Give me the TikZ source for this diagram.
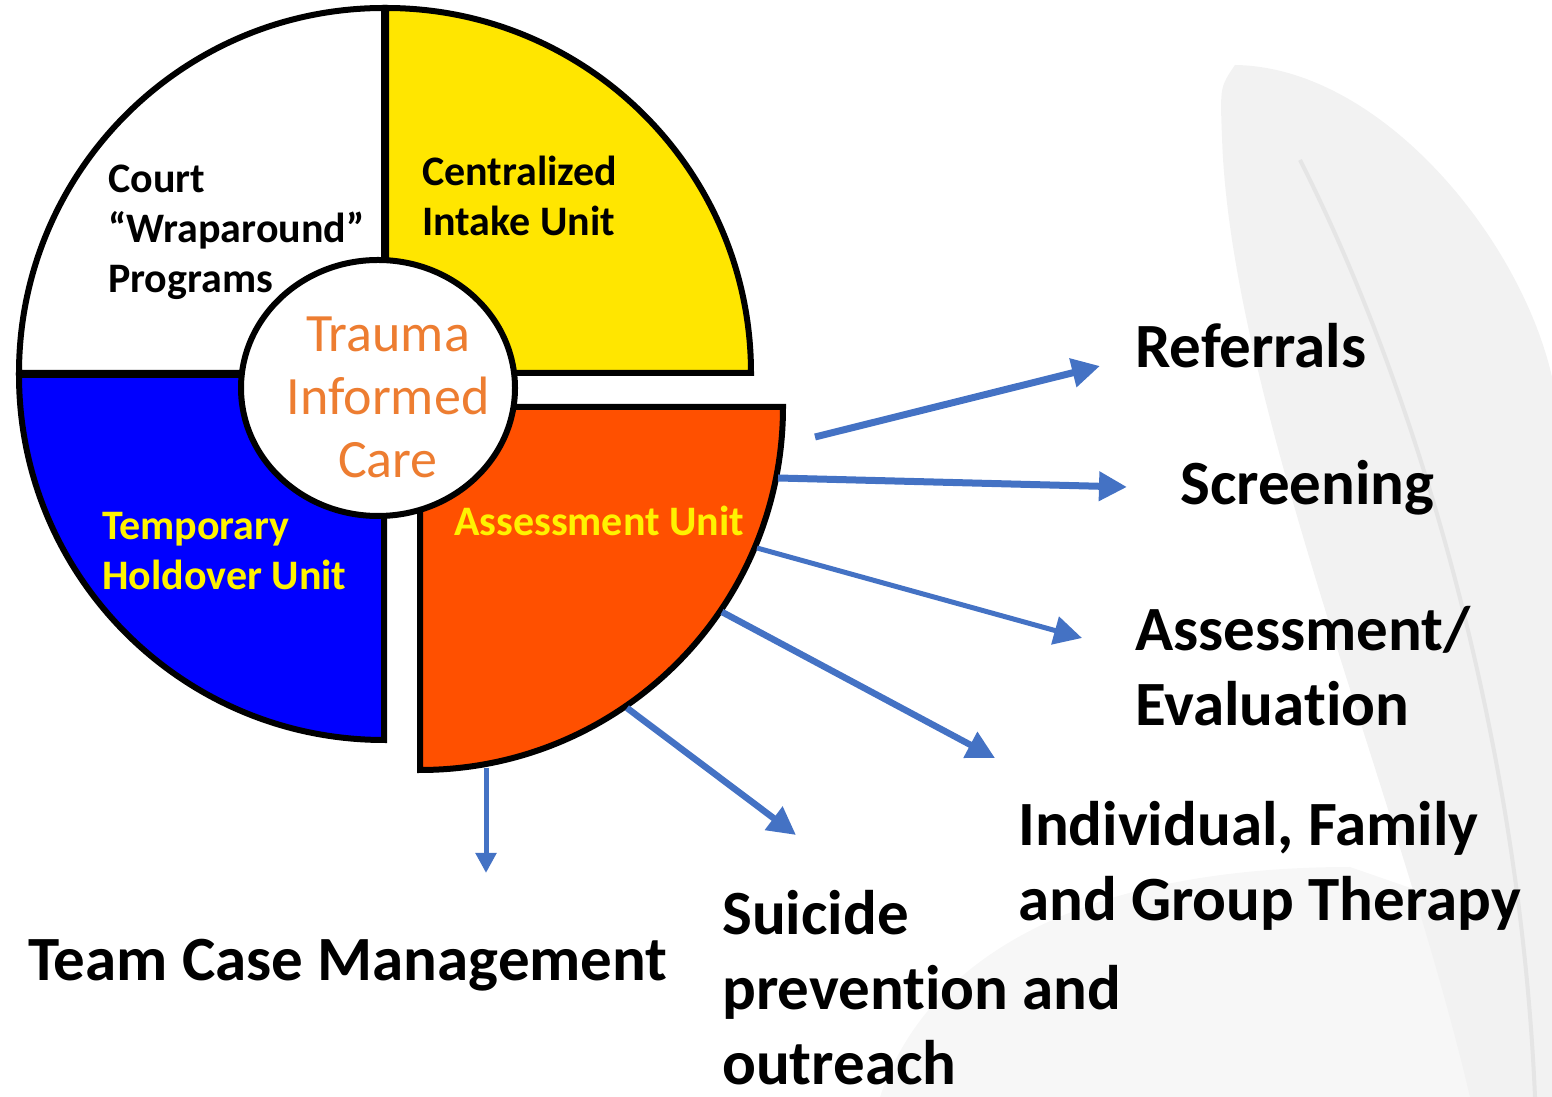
\documentclass[tikz,border=0pt]{standalone}
\usepackage{fontspec}
\setmainfont{Carlito}[Ligatures=NoCommon]
\usetikzlibrary{arrows.meta}

\definecolor{unityellow}{RGB}{255,230,0}
\definecolor{unitblue}{RGB}{0,0,255}
\definecolor{unitorange}{RGB}{255,80,0}
\definecolor{arrowblue}{RGB}{68,114,196}
\definecolor{caretext}{RGB}{237,125,49}

\begin{document}
\begin{tikzpicture}[x=1pt,y=1pt,
    quarter/.style={draw=black, line width=6pt, line join=miter},
    unitlabel/.style={font=\bfseries\fontsize{42}{50}\selectfont, align=left, anchor=base west, inner sep=0pt},
    biglabel/.style={font=\bfseries\fontsize{63}{75}\selectfont, align=left, anchor=base west, inner sep=0pt},
    flow/.style={draw=arrowblue, -{Triangle[length=28pt,width=28pt]}}]
  \useasboundingbox (0,0) rectangle (1552,1097);

  % feather in the background
  \fill[black!3] (880,0) .. controls (930,150) and (1100,230) .. (1350,230) -- (1552,160) -- (1552,0) -- cycle;
  \fill[black!5] (1235,1032) .. controls (1380,1030) and (1520,860) .. (1552,720) -- (1552,0) -- (1470,0)
    .. controls (1400,300) and (1230,700) .. (1222,960) .. controls (1220,1010) .. (1235,1032);
  \draw[black!10, line width=4pt] (1300,937) .. controls (1420,700) and (1520,350) .. (1535,0);

  % the four units
  \draw[quarter, fill=white] (384,724) -- (19,724) arc (180:90:365) -- cycle;
  \draw[quarter, fill=unityellow] (386,724) -- (386,1089) arc (90:0:365) -- cycle;
  \draw[quarter, fill=unitblue] (384,722) -- (19,722) arc (180:270:365) -- cycle;
  \draw[quarter, fill=unitorange] (420,690) -- (783,690) arc (0:-90:363) -- cycle;
  \draw[quarter, fill=white] (378,709) ellipse (137 and 128);

  \node[unitlabel] (court) at (108,804) {Court\\“Wraparound”\\Programs};
  \node[unitlabel] (intake) at (422,861) {Centralized\\Intake Unit};
  \node[unitlabel, text=yellow] (holdover) at (102,507) {Temporary\\Holdover Unit};
  \node[unitlabel, text=yellow] (assess) at (454,561) {Assessment Unit};
  \node[font=\fontsize{54}{63}\selectfont, text=caretext, align=center, anchor=base, inner sep=0pt]
    (care) at (388,619) {Trauma\\Informed\\Care};

  % services
  \node[biglabel] (referrals) at (1135,729) {Referrals};
  \node[biglabel] (screening) at (1180,592) {Screening};
  \node[biglabel] (evaluation) at (1135,371) {Assessment/\\Evaluation};
  \node[biglabel] (therapy) at (1018,176) {Individual, Family\\and Group Therapy};
  \node[biglabel] (suicide) at (722,12) {Suicide\\prevention and\\outreach};
  \node[biglabel] (team) at (28,116) {Team Case Management};

  \foreach \i/\sx/\sy/\ex/\ey/\w in {1/815/660/1100/731/7, 2/778/619/1127/610/7,
      3/757/549/1082/459/5, 4/722/485/995/339/6.5, 5/627/389/796/262/6.5}{
      \coordinate (from\i) at (\sx,\sy);
      \coordinate (to\i) at (\ex,\ey);
      \draw[flow, line width=\w pt] (from\i) -- (to\i);
    }
  \coordinate (from6) at (486,329);
  \coordinate (to6) at (486,224);
  \draw[flow, line width=5pt, -{Triangle[length=20pt,width=20pt]}] (from6) -- (to6);
\end{tikzpicture}
\end{document}
